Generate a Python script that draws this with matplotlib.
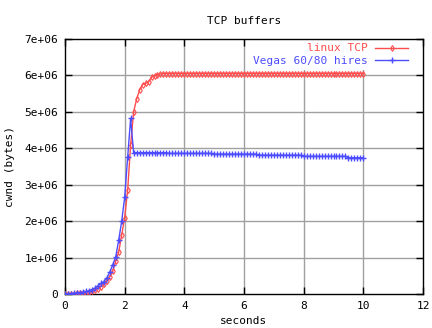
import numpy as np
import matplotlib
matplotlib.use('Agg')
import matplotlib.pyplot as plt
import matplotlib.ticker as mticker

plt.rcParams['font.family'] = 'DejaVu Sans Mono'

# sample times, 0.1 s apart
t = np.round(np.arange(0, 101) * 0.1, 1)

# linux TCP cwnd (units of 1e6 bytes)
linux_rise = [0.0, 0.0, 0.0, 0.01, 0.02, 0.02, 0.03, 0.04, 0.06, 0.08,
              0.11, 0.15, 0.20, 0.27, 0.36, 0.47, 0.62, 0.90, 1.15, 1.62,
              2.10, 2.85, 4.10, 5.00, 5.35, 5.60, 5.75, 5.78, 5.82, 5.95,
              5.98, 6.02, 6.04]
linux_flat = [6.05] * (101 - len(linux_rise))
linux_tcp = np.array(linux_rise + linux_flat) * 1e6

# Vegas 60/80 hires cwnd (units of 1e6 bytes)
vegas_rise = [0.0, 0.0, 0.01, 0.02, 0.03, 0.04, 0.05, 0.07, 0.09, 0.12,
              0.16, 0.22, 0.29, 0.34, 0.44, 0.60, 0.80, 1.02, 1.48, 2.00,
              2.65, 3.75, 4.82]
vegas_flat = ([3.88] * 12 + [3.86] * 15 + [3.84] * 15 + [3.81] * 15 +
              [3.78] * 15 + [3.74] * 6)
vegas = np.array(vegas_rise + vegas_flat) * 1e6

red = '#ff4d4d'
blue = '#4d4dff'
gridc = '#a0a0a0'

fig = plt.figure(figsize=(4.32, 3.28), dpi=100)
ax = fig.add_axes([65/432, 34/328, 358/432, 255/328])

ax.plot(t, linux_tcp, color=red, lw=1, marker='d', ms=3,
        mfc='none', mec=red, mew=0.8, label='linux TCP', zorder=3)
ax.plot(t, vegas, color=blue, lw=1, marker='+', ms=5,
        mew=1, label='Vegas 60/80 hires', zorder=4)

ax.set_xlim(0, 12)
ax.set_ylim(0, 7e6)
ax.xaxis.set_major_locator(mticker.MultipleLocator(2))
ax.yaxis.set_major_locator(mticker.MultipleLocator(1e6))

def ylab(v, pos):
    if v == 0:
        return '0'
    return '%de+06' % round(v / 1e6)

ax.yaxis.set_major_formatter(mticker.FuncFormatter(ylab))

# grid drawn by hand so the key box can sit between grid and ticks
for gx in range(2, 12, 2):
    ax.axvline(gx, color=gridc, lw=1, zorder=1)
for gy in range(1, 7):
    ax.axhline(gy * 1e6, color=gridc, lw=1, zorder=1)

ax.tick_params(direction='in', length=5, width=1, top=True, right=True,
               labelsize=8, pad=5, color='black')
for s in ax.spines.values():
    s.set_linewidth(1)
    s.set_color('black')

ax.set_title('TCP buffers', fontsize=8, pad=11)
ax.set_xlabel('seconds', fontsize=8, labelpad=4)
ax.set_ylabel('cwnd (bytes)', fontsize=8, labelpad=7)

leg = ax.legend(loc='upper right', bbox_to_anchor=(0.971, 1.0),
                frameon=True, facecolor='white', edgecolor='none',
                framealpha=1, fancybox=False, markerfirst=False,
                numpoints=1, handlelength=3.0, fontsize=8,
                borderaxespad=0.0, handletextpad=0.6, labelspacing=0.2)
leg.set_zorder(2)
for txt, c in zip(leg.get_texts(), [red, blue]):
    txt.set_color(c)

fig.savefig('out.png', dpi=100)
